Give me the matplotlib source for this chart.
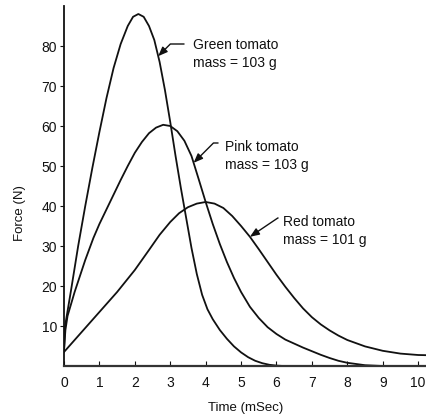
import numpy as np
import matplotlib
matplotlib.use("Agg")
import matplotlib.pyplot as plt

plt.rcParams['font.family'] = ['Liberation Sans', 'DejaVu Sans']

# Data (time in ms, force in N)
green_t = [0, 0.03, 0.2, 0.4, 0.6, 0.8, 1.0, 1.2, 1.4, 1.6, 1.8, 1.95, 2.1, 2.25, 2.4,
           2.55, 2.7, 2.85, 3.0, 3.15, 3.3, 3.45, 3.6, 3.75, 3.9, 4.05, 4.2, 4.4, 4.6,
           4.8, 5.0, 5.2, 5.4, 5.6, 5.8, 6.0, 6.2, 10.25]
green_f = [3.5, 10, 19, 30, 40, 49.5, 58.5, 67, 74.5, 80.5, 85, 87.3, 88, 87.3, 85,
           81.5, 76, 69, 61, 52.5, 44.5, 37, 29.5, 23, 17.8, 14.2, 11.7, 9, 6.8,
           4.9, 3.4, 2.2, 1.3, 0.7, 0.3, 0.1, 0, 0]

pink_t = [0, 0.04, 0.1, 0.3, 0.45, 0.6, 0.83, 1.0, 1.3, 1.6, 1.8, 2.0, 2.2, 2.4, 2.6,
          2.8, 3.0, 3.2, 3.4, 3.6, 3.8, 4.0, 4.2, 4.4, 4.6, 4.8, 5.0, 5.25, 5.5, 5.75,
          6.0, 6.25, 6.5, 6.75, 7.0, 7.25, 7.5, 7.75, 8.0, 8.5, 9.0, 10.25]
pink_f = [4, 9, 12.5, 18.5, 22.5, 26.5, 32, 35.5, 41, 46.5, 50, 53.3, 56, 58.2, 59.6,
          60.3, 60, 58.7, 56.3, 52.5, 46.8, 41, 35.5, 30.5, 26, 22, 18.5, 14.8, 12, 9.7,
          8, 6.6, 5.6, 4.6, 3.7, 2.8, 2.0, 1.3, 0.8, 0.2, 0, 0]

red_t = [0, 0.5, 1.0, 1.5, 2.0, 2.4, 2.7, 3.0, 3.25, 3.5, 3.75, 4.0, 4.25, 4.5, 4.75,
         5.0, 5.25, 5.5, 5.75, 6.0, 6.25, 6.5, 6.75, 7.0, 7.25, 7.5, 7.75, 8.0, 8.5,
         9.0, 9.5, 10.0, 10.25]
red_f = [3.5, 8.5, 13.5, 18.5, 24, 29, 32.8, 36, 38.2, 39.7, 40.6, 41, 40.6, 39.5, 37.5,
         35, 32.3, 29.2, 26, 22.8, 19.8, 17, 14.4, 12.2, 10.4, 8.9, 7.6, 6.5, 4.9,
         3.8, 3.1, 2.75, 2.7]

labels = ["Green tomato\nmass = 103 g", "Pink tomato\nmass = 103 g", "Red tomato\nmass = 101 g"]
x_ticks = list(range(0, 11))
y_ticks = [10, 20, 30, 40, 50, 60, 70, 80]

fig = plt.figure(figsize=(4.27, 4.18), dpi=100)
ax = fig.add_axes([64/427, 52/418, 363/427, 360/418])

lc = '#111111'
for t, f in [(green_t, green_f), (pink_t, pink_f), (red_t, red_f)]:
    ax.plot(t, f, color=lc, lw=1.3, solid_capstyle='round', solid_joinstyle='round')

ax.set_xlim(0, 10.25)
ax.set_ylim(0, 90)
ax.set_xticks(x_ticks)
ax.set_yticks(y_ticks)
ax.spines['top'].set_visible(False)
ax.spines['right'].set_visible(False)
ax.spines['left'].set_linewidth(1.3)
ax.spines['bottom'].set_linewidth(1.6)
ax.spines['left'].set_color(lc)
ax.spines['bottom'].set_color('#333333')
ax.tick_params(axis='x', direction='in', length=3.5, width=0.8, pad=7, labelsize=10, colors=lc)
ax.tick_params(axis='y', direction='out', length=3, width=0.8, pad=2, labelsize=10, colors=lc)

ax.set_xlabel("Time (mSec)", fontsize=9.5, color=lc)
ax.set_ylabel("Force (N)", fontsize=9.5, color=lc)
ax.xaxis.set_label_coords(0.501, -0.1)
ax.yaxis.set_label_coords(-0.105, 0.425)

series = [(green_t, green_f), (pink_t, pink_f), (red_t, red_f)]
tip_times = [2.66, 3.66, 5.25]
start_px = [(184, 44), (218, 143), (278, 218)]
text_px = [(193, 54), (225, 156), (283, 231)]
angles = [45, 45, 34]

def px2data(px, py):
    return (px - 64) / 35.4, (366 - py) / 4.0

for (t, f), tt, sp, tp, ang, lab in zip(series, tip_times, start_px, text_px, angles, labels):
    tip = (tt, float(np.interp(tt, t, f)))
    st = px2data(*sp)
    ax.annotate('', xy=tip, xytext=st,
                arrowprops=dict(arrowstyle='-|>,head_length=0.55,head_width=0.22',
                                connectionstyle=f'angle,angleA=0,angleB={ang},rad=0',
                                color=lc, lw=1.0, shrinkA=0, shrinkB=0,
                                mutation_scale=10))
    tx, ty = px2data(*tp)
    ax.text(tx, ty, lab, ha='left', va='center', fontsize=10, linespacing=1.3, color=lc)

fig.savefig('out.png', dpi=100)
